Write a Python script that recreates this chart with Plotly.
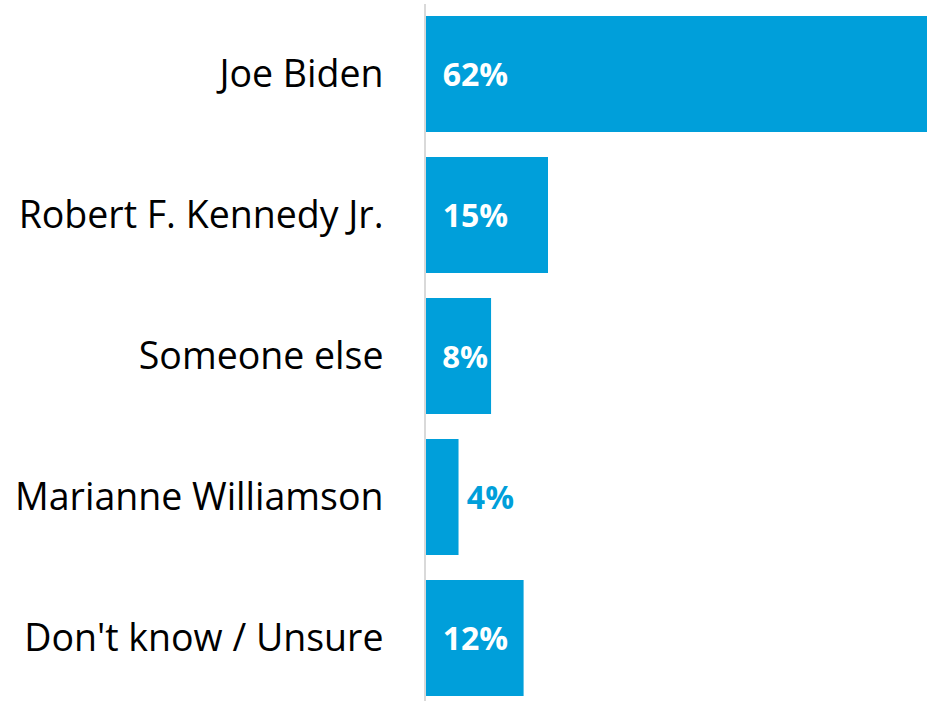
import plotly.graph_objects as go

categories = ["Joe Biden", "Robert F. Kennedy Jr.", "Someone else", "Marianne Williamson", "Don't know / Unsure"]
values = [62, 15, 8, 4, 12]
labels = ["62%", "15%", "8%", "4%", "12%"]

BLUE = "#009fda"

# inside labels get a little extra left padding; the outside one a smaller gap
text = [("\u2009\u00a0" if v >= 5 else "\u2009") + t for v, t in zip(values, labels)]

fig = go.Figure(
    go.Bar(
        x=values,
        y=categories,
        orientation="h",
        marker=dict(color=BLUE, line=dict(width=0)),
        text=text,
        textposition="auto",
        insidetextanchor="start",
        insidetextfont=dict(color="white", size=32, family="Open Sans", weight="bold"),
        outsidetextfont=dict(color=BLUE, size=32, family="Open Sans", weight="bold"),
        textangle=0,
        cliponaxis=True,
        hoverinfo="skip",
    )
)

fig.update_layout(
    width=927,
    height=701,
    margin=dict(l=426, r=0, t=4, b=0),
    paper_bgcolor="white",
    plot_bgcolor="white",
    bargap=0.177,
    showlegend=False,
    uniformtext=dict(minsize=1, mode=False),
)

fig.update_xaxes(
    range=[0, 61.6],
    visible=False,
    showgrid=False,
    zeroline=False,
)

fig.update_yaxes(
    type="category",
    categoryorder="array",
    categoryarray=categories,
    range=[4.447, -0.496],
    showgrid=False,
    zeroline=False,
    showline=True,
    linecolor="#d9d9d9",
    linewidth=2,
    ticks="",
    ticklabelstandoff=33,
    tickfont=dict(family="Open Sans", size=37.5, color="black"),
)

fig.write_html(
    "out.html",
    config={"displayModeBar": False},
    post_script="document.body.style.margin='0';document.body.style.overflow='hidden';",
)
